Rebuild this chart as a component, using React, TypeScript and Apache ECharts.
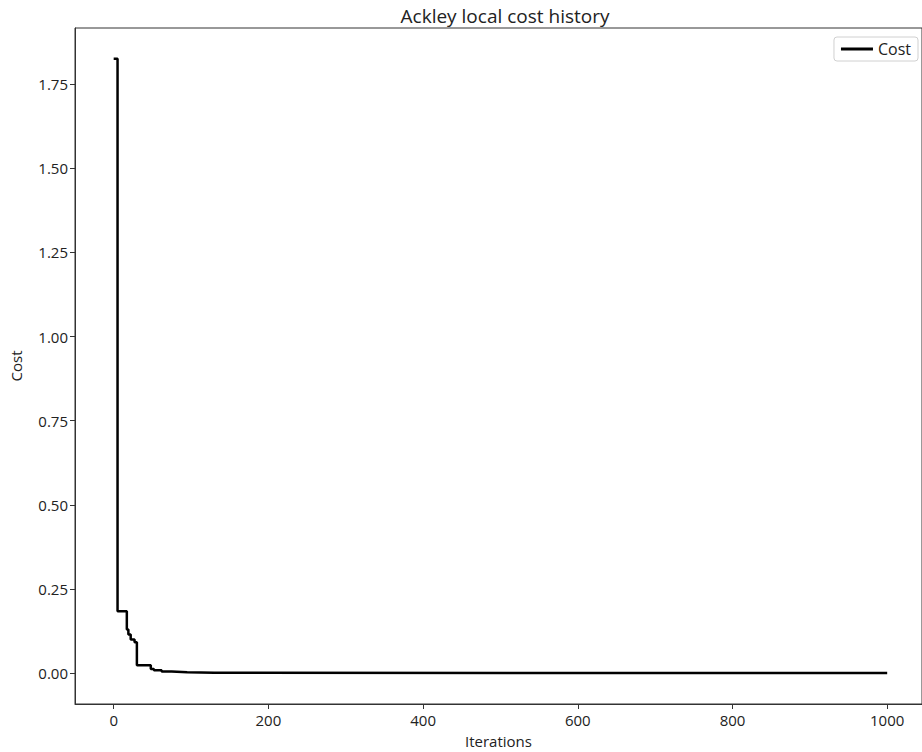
import React, { useEffect, useRef } from "react";
import * as echarts from "echarts";

// Iterations where the best cost changes, and the cost held from that iteration on
const iterations = [0, 5, 17, 19, 22, 27, 30, 48, 52, 62, 75, 95, 130, 1000];
const costs = [1.825, 0.184, 0.13, 0.115, 0.1, 0.092, 0.024, 0.013, 0.009, 0.005, 0.003, 0.0015, 0.0005, 0.0003];

const xTicks = [0, 200, 400, 600, 800, 1000];
const yTicks = [0, 0.25, 0.5, 0.75, 1.0, 1.25, 1.5, 1.75];

const FONT = "Open Sans";
const TEXT = "#222";
const SPINE = "#333";

export default function App() {
  const ref = useRef<HTMLDivElement>(null);

  useEffect(() => {
    if (!ref.current) return;
    const chart = echarts.init(ref.current, undefined, { renderer: "svg" });
    const yMax = Math.max(...costs);
    const pad = yMax * 0.05;

    chart.setOption({
      animation: false,
      backgroundColor: "#fff",
      title: {
        text: "Ackley local cost history",
        left: 500,
        top: 1,
        textAlign: "center",
        textStyle: { fontFamily: FONT, fontSize: 19, fontWeight: "normal", color: TEXT },
      },
      legend: {
        right: 4,
        top: 37,
        orient: "vertical",
        itemWidth: 32,
        itemHeight: 3,
        itemGap: 8,
        padding: [4, 7, 4, 7],
        borderColor: "#d0d0d0",
        borderWidth: 1,
        borderRadius: 3,
        textStyle: { fontFamily: FONT, fontSize: 16, color: TEXT },
        data: [{ name: "Cost", icon: "rect" }],
      },
      grid: {
        left: 75,
        top: 28,
        width: 847,
        height: 676,
        outerBoundsMode: "none",
        containLabel: false,
        show: true,
        borderColor: SPINE,
        borderWidth: 1,
      },
      xAxis: {
        type: "value",
        min: -50,
        max: 1045,
        interval: 50,
        name: "Iterations",
        nameLocation: "middle",
        nameGap: 29,
        nameTextStyle: { fontFamily: FONT, fontSize: 15, color: TEXT, lineHeight: 16 },
        axisLine: { show: true, onZero: false, lineStyle: { color: SPINE } },
        axisTick: { show: true, inside: false, length: 5, lineStyle: { color: SPINE }, customValues: xTicks },
        axisLabel: { fontFamily: FONT, fontSize: 15, color: TEXT, margin: 8, customValues: xTicks, formatter: (v: number) => String(v) },
        splitLine: { show: false },
      },
      yAxis: {
        type: "value",
        min: -pad,
        max: yMax + pad,
        name: "Cost",
        nameLocation: "middle",
        nameGap: 52,
        nameTextStyle: { fontFamily: FONT, fontSize: 15, color: TEXT },
        axisLine: { show: true, onZero: false, lineStyle: { color: SPINE } },
        axisTick: { show: true, inside: false, length: 5, lineStyle: { color: SPINE }, customValues: yTicks },
        axisLabel: { fontFamily: FONT, fontSize: 15, color: TEXT, margin: 7, customValues: yTicks, formatter: (v: number) => v.toFixed(2) },
        splitLine: { show: false },
      },
      series: [
        {
          name: "Cost",
          type: "line",
          step: "end",
          showSymbol: false,
          color: "#000",
          lineStyle: { color: "#000", width: 2.5 },
          data: iterations.map((it, i) => [it, costs[i]]),
        },
      ],
    });
    return () => chart.dispose();
  }, []);

  return <div ref={ref} style={{ position: "fixed", left: 0, top: 0, width: 922, height: 752 }} />;
}
